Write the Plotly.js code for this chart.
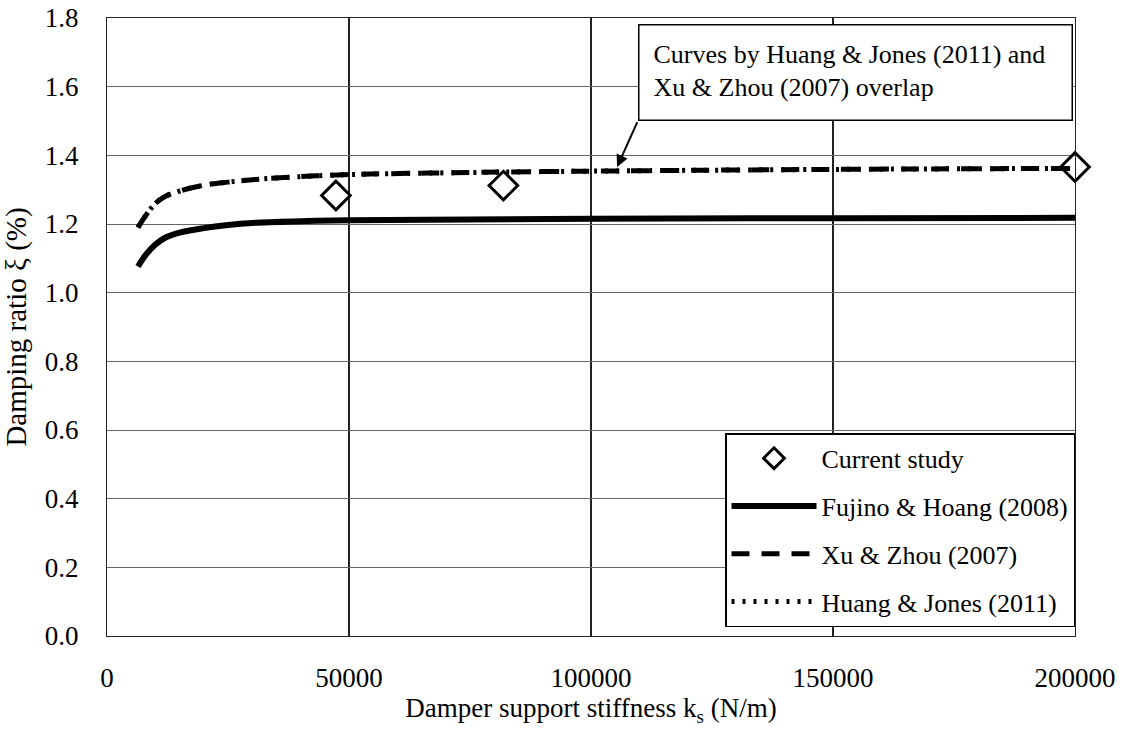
<!DOCTYPE html>
<html>
<head>
<meta charset="utf-8">
<script src="https://cdn.plot.ly/plotly-3.0.1.min.js"></script>
<style>html,body{margin:0;padding:0;background:#fff;}#chart{width:1131px;height:733px;}</style>
</head>
<body>
<div id="chart"></div>
<script>
// Current study (markers)
const ksStudy = [47300, 81900, 200000];
const xiStudy = [1.283, 1.312, 1.366];

// Fujino & Hoang (2008)
const ksFujino = [6400, 8000, 10000, 12000, 15000, 20000, 25000, 30000, 40000, 50000, 75000, 100000, 150000, 200000];
const xiFujino = [1.076, 1.11, 1.14, 1.16, 1.175, 1.188, 1.197, 1.203, 1.208, 1.211, 1.213, 1.215, 1.217, 1.218];

// Xu & Zhou (2007)
const ksXu = [6400, 8000, 10000, 12000, 15000, 20000, 25000, 30000, 40000, 50000, 75000, 100000, 150000, 200000];
const xiXu = [1.19, 1.225, 1.26, 1.28, 1.296, 1.313, 1.322, 1.329, 1.338, 1.344, 1.35, 1.354, 1.359, 1.362];

// Huang & Jones (2011) - overlaps Xu & Zhou
const ksHuang = [6400, 8000, 10000, 12000, 15000, 20000, 25000, 30000, 40000, 50000, 75000, 100000, 150000, 200000];
const xiHuang = [1.19, 1.225, 1.26, 1.28, 1.296, 1.313, 1.322, 1.329, 1.338, 1.344, 1.35, 1.354, 1.359, 1.362];

const xTickVals = [0, 50000, 100000, 150000, 200000];
const xTickText = ['0', '50000', '100000', '150000', '200000'];
const yTickVals = [0, 0.2, 0.4, 0.6, 0.8, 1.0, 1.2, 1.4, 1.6, 1.8];
const yTickText = ['0.0', '0.2', '0.4', '0.6', '0.8', '1.0', '1.2', '1.4', '1.6', '1.8'];

const FONT = '"Liberation Serif", "Times New Roman", serif';

const traces = [
  {
    x: ksStudy, y: xiStudy, name: 'Current study', mode: 'markers', legendgroup: 'a',
    marker: {symbol: 'diamond-open', size: 22, color: '#000', line: {width: 3, color: '#000'}},
    cliponaxis: false
  },
  {
    x: ksFujino, y: xiFujino, name: 'Fujino & Hoang (2008)', mode: 'lines', legendgroup: 'b',
    line: {color: '#000', width: 6, shape: 'spline'}
  },
  {
    x: ksXu, y: xiXu, name: 'Xu & Zhou (2007)', mode: 'lines', legendgroup: 'c',
    line: {color: '#000', width: 5, dash: '18px,12px', shape: 'spline'}
  },
  {
    x: ksHuang, y: xiHuang, name: 'Huang & Jones (2011)', mode: 'lines', legendgroup: 'd',
    line: {color: '#000', width: 5, dash: '3px,8px', shape: 'spline'}
  }
];

const layout = {
  width: 1131, height: 733,
  margin: {l: 107, r: 56, t: 18, b: 97},
  paper_bgcolor: '#fff', plot_bgcolor: '#fff',
  font: {family: FONT, color: '#000', size: 26},
  showlegend: true,
  legend: {
    x: 1.0, xanchor: 'right', y: 0.328, yanchor: 'top',
    bgcolor: '#fff', bordercolor: '#000', borderwidth: 1.5,
    font: {family: FONT, size: 26, color: '#000'},
    tracegroupgap: 11, itemwidth: 85
  },
  xaxis: {
    range: [0, 200000], tickvals: xTickVals, ticktext: xTickText,
    showgrid: true, gridcolor: '#222', gridwidth: 1.2,
    showline: true, linecolor: '#222', linewidth: 1.2, mirror: true,
    zeroline: false, ticks: '', ticklabelstandoff: 17,
    tickfont: {family: FONT, size: 27, color: '#000'},
    title: {text: 'Damper support stiffness k<sub>s</sub> (N/m)', font: {family: FONT, size: 27, color: '#000'}, standoff: 6}
  },
  yaxis: {
    range: [0, 1.8], tickvals: yTickVals, ticktext: yTickText,
    showgrid: true, gridcolor: '#666', gridwidth: 1,
    showline: true, linecolor: '#222', linewidth: 1.2, mirror: true,
    zeroline: false, ticks: '', ticklabelstandoff: 22,
    tickfont: {family: FONT, size: 27, color: '#000'},
    title: {text: 'Damping ratio ξ (%)', font: {family: FONT, size: 29, color: '#000'}, standoff: 10}
  },
  annotations: [
    {
      xref: 'paper', yref: 'paper', x: 0.5486, y: 0.990, xanchor: 'left', yanchor: 'top',
      text: 'Curves by Huang &amp; Jones (2011) and<br>Xu &amp; Zhou (2007) overlap',
      align: 'left', valign: 'top', showarrow: false,
      width: 404, height: 66, borderpad: 14,
      bgcolor: '#fff', bordercolor: '#000', borderwidth: 1.5,
      font: {family: FONT, size: 26, color: '#000'}
    },
    {
      xref: 'x', yref: 'y', x: 105400, y: 1.366, axref: 'x', ayref: 'y', ax: 109700, ay: 1.501,
      text: '', showarrow: true, arrowhead: 2, arrowsize: 1.2, arrowwidth: 2, arrowcolor: '#000'
    }
  ]
};

Plotly.newPlot('chart', traces, layout, {displayModeBar: false, staticPlot: true});
</script>
</body>
</html>
